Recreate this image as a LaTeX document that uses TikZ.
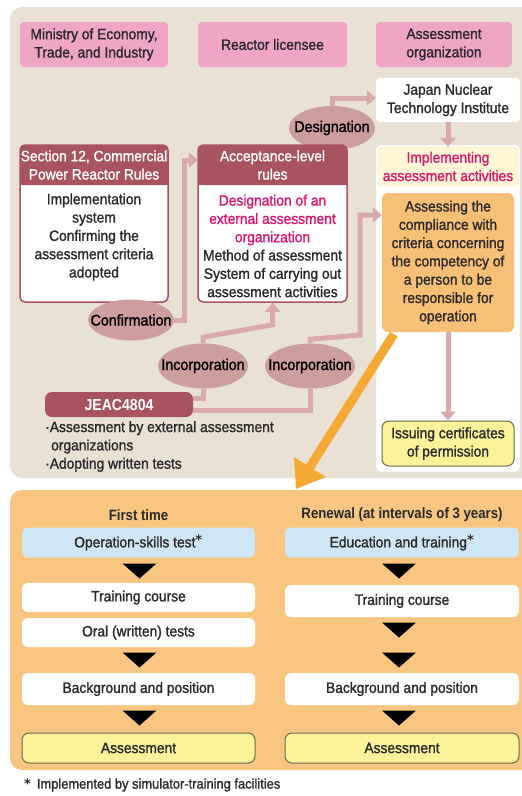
\documentclass[tikz,border=0pt]{standalone}
\usepackage{fontspec}
\setmainfont[FakeStretch=0.92,FakeBold=1.4,BoldFeatures={FakeStretch=0.88,FakeBold=0}]{Liberation Sans}
\newfontfamily\symf{DejaVu Sans}
\usetikzlibrary{shapes.geometric,arrows.meta}
\definecolor{beige}{HTML}{E9E2D4}
\definecolor{pinkhdr}{HTML}{F0A5C5}
\definecolor{darkred}{HTML}{A8535E}
\definecolor{ellc}{HTML}{CC9E9E}
\definecolor{connc}{HTML}{D8AAA8}
\definecolor{orbox}{HTML}{F8C077}
\definecolor{orpanel}{HTML}{F8C680}
\definecolor{orarrow}{HTML}{F6A935}
\definecolor{lblue}{HTML}{CFE6F4}
\definecolor{yel}{HTML}{FBF39A}
\definecolor{yelb}{HTML}{6E6A4E}
\definecolor{implbg}{HTML}{FFF7D6}
\definecolor{implb}{HTML}{E9DDB5}
\definecolor{redtxt}{HTML}{E2166C}
\definecolor{txt}{HTML}{2A2A2A}
\newcommand\dtri[2]{\fill[black] (#1-17,#2-7.5) -- (#1+17,#2-7.5) -- (#1,#2+7.5) -- cycle;}
\newcommand\myast{\textsuperscript{\raisebox{-2pt}{\symf\fontsize{13}{13}\selectfont\bfseries *}}}
\begin{document}
\begin{tikzpicture}[x=1pt,y=-1pt,
  every node/.append style={font=\fontsize{15}{18.3}\selectfont, text=txt},
  box/.style={rounded corners=4pt, inner sep=0pt, align=center},
  pinkbox/.style={box, fill=pinkhdr, minimum height=45pt},
  hdrbox/.style={box, fill=darkred, text=white, rounded corners=5pt, minimum width=148pt, minimum height=40pt},
  ell/.style={ellipse, fill=ellc, inner sep=0pt, text=black, font=\fontsize{15.5}{18}\selectfont},
  conn/.style={draw=connc, line width=5pt, -{Triangle[width=15pt,length=9pt]}},
  connl/.style={draw=connc, line width=5pt},
  wbox/.style={box, fill=white, rounded corners=6pt, minimum height=30pt},
  bbox/.style={box, fill=lblue, rounded corners=6pt, minimum height=30pt},
  ybox/.style={box, fill=yel, draw=yelb, line width=1pt, rounded corners=7pt, minimum height=30pt}]
\useasboundingbox (0,0) rectangle (522,796);
% panels
\fill[beige, rounded corners=12pt] (10,7) rectangle (545,478);
\fill[orpanel, rounded corners=12pt] (10,490) rectangle (545,770);

% top headers
\node[pinkbox, minimum width=148pt] (min) at (94,44.5) {Ministry of Economy,\\Trade, and Industry};
\node[pinkbox, minimum width=149pt] (lic) at (272.5,44.5) {Reactor licensee};
\node[pinkbox, minimum width=136pt] (org) at (444,44.5) {Assessment\\organization};

% right column
\node[box, fill=white, minimum width=144pt, minimum height=44pt] (jnti) at (448,100) {Japan Nuclear\\Technology Institute};
\node[box, fill=white, draw=black!15, minimum width=144pt, minimum height=327pt] (panel) at (448,308.5) {};
\node[box, fill=implbg, draw=implb, text=redtxt, minimum width=140pt, minimum height=39pt] (impl) at (448,166.5) {Implementing\\assessment activities};
\node[box, fill=orbox, rounded corners=6pt, minimum width=132pt, minimum height=139pt] (asses) at (448,262.5)
  {Assessing the\\compliance with\\criteria concerning\\the competency of\\a person to be\\responsible for\\operation};
\node[ybox, minimum width=132pt, minimum height=45pt] (issue) at (448,443.5) {Issuing certificates\\of permission};

% designation ellipse (behind acceptance box)
\node[ell, minimum width=86pt, minimum height=44pt] (des) at (332,128) {\makebox[0pt]{Designation}};

% Section 12 box
\node[box, fill=white, draw=darkred, line width=1.5pt, rounded corners=5pt, minimum width=148pt, minimum height=157pt] (secbody) at (94,223.5) {};
\fill[darkred] (20,170) rectangle (168,185);
\node[hdrbox] (sechead) at (94,165) {Section 12, Commercial\\Power Reactor Rules};
\node[align=center, inner sep=0pt] (sectxt) at (94,237) {Implementation\\system\\Confirming the\\assessment criteria\\adopted};

% Acceptance box
\node[box, fill=white, draw=darkred, line width=1.5pt, rounded corners=5pt, minimum width=149pt, minimum height=157pt] (accbody) at (272.5,223.5) {};
\fill[darkred] (198,170) rectangle (347,185);
\node[hdrbox, minimum width=149pt] (acchead) at (272.5,165) {Acceptance-level\\rules};
\node[align=center, inner sep=0pt] (acctxt) at (272.5,246)
  {\textcolor{redtxt}{Designation of an}\\\textcolor{redtxt}{external assessment}\\\textcolor{redtxt}{organization}\\Method of assessment\\System of carrying out\\assessment activities};

% ellipses
\node[ell, minimum width=86pt, minimum height=41pt] (conf) at (131,320) {\makebox[0pt]{Confirmation}};
\node[ell, minimum width=90pt, minimum height=45pt] (inc1) at (203,366) {\makebox[0pt]{Incorporation}};
\node[ell, minimum width=90pt, minimum height=45pt] (inc2) at (310,366) {\makebox[0pt]{Incorporation}};

% JEAC
\node[box, fill=darkred, text=white, rounded corners=7pt, minimum width=148pt, minimum height=25pt, font=\fontsize{16}{18}\selectfont\bfseries] (jeac) at (119,404.5) {JEAC4804};
\node[anchor=north west, align=left, inner sep=0pt] (bul) at (45,421)
  {\textperiodcentered Assessment by external assessment\\\hspace*{6pt}organizations\\\textperiodcentered Adopting written tests};

% connectors
\draw[conn] (des.north) |- ([yshift=2pt]jnti.west);
\draw[conn] (jnti.south) -- (impl.north);
\draw[conn] (conf.east) -- ++(10,0) |- ([yshift=5pt]acchead.west);
\draw[conn] (inc1.north) -- ++(0,-6) -- ([yshift=-22pt]accbody.south) -- (accbody.south);
\coordinate (c2) at (360,335);
\draw[conn] (inc2.north) -- ++(0,-4) -- (c2) |- ([yshift=47.5pt]asses.west);
\draw[connl] ([yshift=6.5pt]jeac.east) -| (inc1.south);
\draw[connl] ([yshift=-5.5pt]jeac.east) -| (inc2.south);
\draw[conn] (asses.south) -- (issue.north);
\coordinate (otip) at (296,489);
\draw[draw=orarrow, line width=9pt, -{Triangle[width=36pt,length=26pt]}] ([xshift=12pt,yshift=-2pt]asses.south west) -- (otip);

% bottom panel
\node[font=\fontsize{15}{18}\selectfont\bfseries] (ft) at (138.5,515) {First time};
\node[font=\fontsize{15}{18}\selectfont\bfseries] (rn) at (402,515) {Renewal (at intervals of 3 years)};

\node[bbox, minimum width=233pt] (opL) at (138.5,542.5) {Operation-skills test\myast};
\node[wbox, minimum width=233pt, minimum height=29pt] (trL) at (138.5,597.5) {Training course};
\node[wbox, minimum width=233pt, minimum height=29pt] (orL) at (138.5,632.5) {Oral (written) tests};
\node[wbox, minimum width=233pt, minimum height=32pt] (bgL) at (138.5,689) {Background and position};
\node[ybox, minimum width=233pt] (asL) at (138.5,748) {Assessment};

\node[bbox, minimum width=234pt] (edR) at (402,542.5) {Education and training\myast};
\node[wbox, minimum width=234pt, minimum height=32pt] (trR) at (402,601) {Training course};
\node[wbox, minimum width=234pt, minimum height=32pt] (bgR) at (402,689) {Background and position};
\node[ybox, minimum width=234pt] (asR) at (402,748) {Assessment};

\dtri{139.5}{571}
\dtri{139.5}{660}
\dtri{139.5}{718}
\dtri{399}{571}
\dtri{399}{630}
\dtri{399}{660}
\dtri{399}{718}

% footnote
\node[anchor=west, inner sep=0pt, font=\fontsize{14}{16}\selectfont] (fn) at (24,785)
  {{\symf\bfseries\fontsize{13}{13}\selectfont *}\, Implemented by simulator-training facilities};
\end{tikzpicture}
\end{document}
